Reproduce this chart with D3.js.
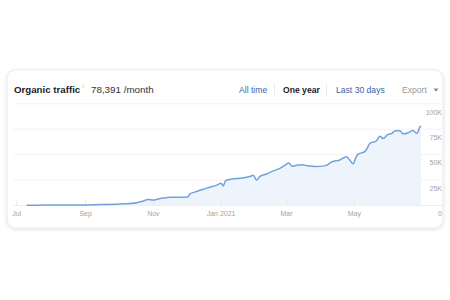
<!DOCTYPE html>
<html><head><meta charset="utf-8">
<script src="https://cdn.jsdelivr.net/npm/d3@7"></script>
<style>body{margin:0;background:#fff;} svg{display:block;font-family:"Liberation Sans",Arial,Helvetica,sans-serif;}</style>
</head><body><svg id="c" width="450" height="300"></svg>
<script>
const dates = ["2020-07-10","2020-07-20","2020-07-30","2020-08-15","2020-09-01","2020-09-15","2020-10-02","2020-10-11","2020-10-17","2020-10-23","2020-10-27","2020-11-01","2020-11-05","2020-11-10","2020-11-16","2020-11-25","2020-12-02","2020-12-04","2020-12-09","2020-12-16","2020-12-22","2020-12-28","2021-01-01","2021-01-03","2021-01-05","2021-01-11","2021-01-18","2021-01-27","2021-01-30","2021-02-02","2021-02-05","2021-02-11","2021-02-16","2021-02-23","2021-02-28","2021-03-03","2021-03-06","2021-03-10","2021-03-15","2021-03-20","2021-03-27","2021-04-05","2021-04-11","2021-04-18","2021-04-24","2021-04-26","2021-04-30","2021-05-02","2021-05-04","2021-05-11","2021-05-15","2021-05-21","2021-05-24","2021-05-27","2021-05-31","2021-06-04","2021-06-07","2021-06-11","2021-06-14","2021-06-18","2021-06-23","2021-06-26","2021-06-27","2021-06-29","2021-06-30"];
const traffic = [300,350,400,500,600,900,1500,2000,2800,4500,5900,5400,6300,7300,8000,8000,8400,11500,13400,16000,18000,20000,22000,19200,24500,26000,26800,28500,29700,25000,28700,31000,33600,36500,40000,41800,38500,39500,40000,39000,38300,39200,43000,44800,48000,46000,41000,46000,50000,53500,61000,63700,68000,66000,69600,71000,73500,73500,70500,71300,73800,71000,71500,77000,78391];
const yTicks = [0,25000,50000,75000,100000];
const yTickLabels = ["0","25K","50K","75K","100K"];
const xTickDates = ["2020-07-01","2020-09-01","2020-11-01","2021-01-01","2021-03-01","2021-05-01"];
const xTickLabels = ["Jul","Sep","Nov","Jan 2021","Mar","May"];
const xDomain = ["2020-06-28","2021-07-01"];
const titleText = "Organic traffic";
const totalText = "78,391 /month";
const tabs = ["All time","One year","Last 30 days"];
const exportText = "Export";

const parse = d3.timeParse("%Y-%m-%d");
const data = dates.map((d,i)=>({date:parse(d), value:traffic[i]}));
const svg = d3.select("#c");

const defs = svg.append("defs");
const f = defs.append("filter").attr("id","sh").attr("x","-10%").attr("y","-10%").attr("width","120%").attr("height","130%");
f.append("feDropShadow").attr("dx",0).attr("dy",1).attr("stdDeviation",2).attr("flood-color","#000").attr("flood-opacity",0.12);

svg.append("rect").attr("x",7).attr("y",70).attr("width",436).attr("height",158).attr("rx",9)
  .attr("fill","#fff").attr("stroke","#e4e4e4").attr("stroke-width",0.8).attr("filter","url(#sh)");

const x = d3.scaleTime().domain(xDomain.map(parse)).range([13.5,422]);
const y = d3.scaleLinear().domain([0,100000]).range([205.5,103.8]);

// gridlines
svg.append("g").selectAll("line").data(yTicks).join("line")
  .attr("x1",13.5).attr("x2",442).attr("y1",d=>y(d)).attr("y2",d=>y(d))
  .attr("stroke",(d,i)=>i===0?"#e6e6e6":"#efefef").attr("stroke-width",0.8);

// y labels
svg.append("g").selectAll("text").data(yTicks).join("text")
  .attr("x",442).attr("y",d=>y(d)+10.8).attr("text-anchor","end")
  .attr("font-size",7).attr("fill","#a3a3a3").text((d,i)=>yTickLabels[i]);

// area + line
const area = d3.area().curve(d3.curveMonotoneX).x(d=>x(d.date)).y0(y(0)).y1(d=>y(d.value));
const line = d3.line().curve(d3.curveMonotoneX).x(d=>x(d.date)).y(d=>y(d.value));
svg.append("path").datum(data).attr("d",area).attr("fill","#eef4fc");
// x ticks (short inner)
const xt = xTickDates.map(parse);
svg.append("g").selectAll("line").data(xt).join("line")
  .attr("x1",d=>x(d)).attr("x2",d=>x(d)).attr("y1",y(0)-5).attr("y2",y(0))
  .attr("stroke","#e2e2e2").attr("stroke-width",0.8);
svg.append("path").datum(data).attr("d",line).attr("fill","none")
  .attr("stroke","#72a1da").attr("stroke-width",1.5).attr("stroke-linejoin","round");

svg.append("g").selectAll("text").data(xt).join("text")
  .attr("x",d=>x(d)).attr("y",216).attr("text-anchor","middle")
  .attr("font-size",7).attr("fill","#a3a3a3").text((d,i)=>xTickLabels[i]);

// header
svg.append("text").attr("x",14).attr("y",93.3).attr("font-size",9.7).attr("font-weight","bold").attr("fill","#222").text(titleText);
svg.append("text").attr("x",82.5).attr("y",88).attr("font-size",5.5).attr("fill","#aaa").text("i");
svg.append("text").attr("x",91).attr("y",93.3).attr("font-size",9.8).attr("fill","#333").text(totalText);

const tabX = [239,283,336];
svg.append("g").selectAll("text").data(tabs).join("text")
  .attr("x",(d,i)=>tabX[i]).attr("y",93.3).attr("font-size",8.6)
  .attr("font-weight",(d,i)=>i===1?"bold":"normal")
  .attr("fill",(d,i)=>i===1?"#222":"#3e5fa6").text(d=>d);
[274.5,326.5].forEach(sx=>svg.append("line").attr("x1",sx).attr("x2",sx).attr("y1",84).attr("y2",97).attr("stroke","#e6e6e6").attr("stroke-width",0.8));
svg.append("text").attr("x",402).attr("y",93.3).attr("font-size",8.6).attr("fill","#999").text(exportText);
svg.append("path").attr("d","M433.5,88.5 L438.5,88.5 L436,91.8 Z").attr("fill","#888");
</script></body></html>
